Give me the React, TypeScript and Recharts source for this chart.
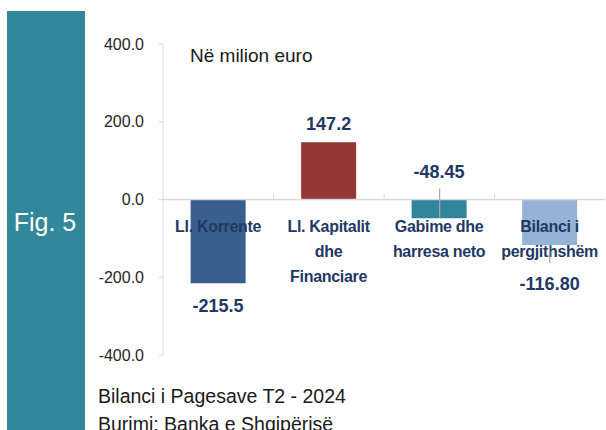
import React from 'react';
import { BarChart, Bar, XAxis, YAxis, ReferenceLine, LabelList, Cell } from 'recharts';

const categories = ['Ll. Korrente', 'Ll. Kapitalit dhe Financiare', 'Gabime dhe harresa neto', 'Bilanci i pergjithshëm'];
const categoryLines = [['Ll. Korrente'], ['Ll. Kapitalit', 'dhe', 'Financiare'], ['Gabime dhe', 'harresa neto'], ['Bilanci i', 'pergjithshëm']];
const values = [-215.5, 147.2, -48.45, -116.8];
const valueLabels = ['-215.5', '147.2', '-48.45', '-116.80'];
const barColors = ['#3a5f8f', '#953735', '#31859c', '#95b3d7'];
const yTicks = [-400, -200, 0, 200, 400];
const unitLabel = 'Në milion euro';
const figLabel = 'Fig. 5';
const footerLines = ['Bilanci i Pagesave T2 - 2024', 'Burimi: Banka e Shqipërisë'];

// label placement style per bar (not data)
const valueLabelMode = ['end', 'end', 'above', 'belowLeader'];

const data = categories.map((c, i) => ({ name: c, value: values[i], label: valueLabels[i] }));

const NAVY = '#1f3864';
const FONT = '"Liberation Sans", Arial, sans-serif';

const CategoryLabel = (props: any) => {
  const { x, y, width, height, value } = props;
  const i = categories.indexOf(value);
  if (i < 0) return null;
  const cx = x + width / 2;
  const zeroY = y + height;
  const lines = categoryLines[i];
  return (
    <g>
      {i > 0 && (
        <line x1={x - width / 2} x2={x - width / 2} y1={zeroY - 6} y2={zeroY} stroke="#d9d9d9" strokeWidth={1} />
      )}
      {lines.map((ln, k) => (
        <text
          key={k}
          x={cx}
          y={zeroY + 27 + k * 25}
          textAnchor="middle"
          dominantBaseline="central"
          fontFamily={FONT}
          fontWeight="bold"
          fontSize={16}
          fill={NAVY}
          letterSpacing={-0.3}
        >
          {ln}
        </text>
      ))}
    </g>
  );
};

const ValueLabel = (props: any) => {
  const { x, y, width, height, value } = props;
  const i = valueLabels.indexOf(value);
  if (i < 0) return null;
  const cx = x + width / 2;
  const zeroY = y + height;
  const endY = y;
  const v = values[i];
  const mode = valueLabelMode[i];
  let ty = 0;
  let leader: React.ReactNode = null;
  if (mode === 'end') {
    ty = v >= 0 ? endY - 18 : endY + 23;
  } else if (mode === 'above') {
    ty = zeroY - 28;
    leader = <line x1={cx + 0.5} x2={cx + 0.5} y1={zeroY - 11} y2={endY} stroke="#a6a6a6" strokeWidth={1.2} />;
  } else {
    ty = endY + 39.5;
    leader = <line x1={cx} x2={cx} y1={endY} y2={endY + 18} stroke="#a6a6a6" strokeWidth={1.2} />;
  }
  return (
    <g>
      {leader}
      <text
        x={cx}
        y={ty}
        textAnchor="middle"
        dominantBaseline="central"
        fontFamily={FONT}
        fontWeight="bold"
        fontSize={18}
        fill={NAVY}
      >
        {value}
      </text>
    </g>
  );
};

export default function App() {
  return (
    <div style={{ position: 'absolute', left: 0, top: 0, width: 606, height: 430, background: '#ffffff', overflow: 'hidden' }}>
      <div
        style={{
          position: 'absolute',
          left: 7,
          top: 11,
          width: 78,
          height: 419,
          background: '#33879a',
        }}
      />
      <div
        style={{
          position: 'absolute',
          left: 6,
          top: 204,
          width: 78,
          textAlign: 'center',
          color: '#ffffff',
          fontFamily: FONT,
          fontSize: 25,
          lineHeight: '36px',
        }}
      >
        {figLabel}
      </div>
      <div style={{ position: 'absolute', left: 0, top: 0 }}>
        <BarChart
          width={606}
          height={430}
          data={data}
          margin={{ top: 44, right: 1, bottom: 75, left: 0 }}
          barCategoryGap="25%"
        >
          <XAxis dataKey="name" hide />
          <YAxis
            width={163}
            domain={[-400, 400]}
            ticks={yTicks}
            tickFormatter={(v: number) => v.toFixed(1)}
            axisLine={{ stroke: '#d9d9d9' }}
            tickLine={{ stroke: '#d9d9d9' }}
            tickSize={4}
            tickMargin={15}
            tick={{ fill: '#262626', fontSize: 16, fontFamily: FONT }}
            interval={0}
          />
          <ReferenceLine y={0} stroke="#d9d9d9" strokeWidth={1.5} />
          <Bar dataKey="value" isAnimationActive={false}>
            {data.map((d, i) => (
              <Cell key={d.name} fill={barColors[i]} />
            ))}
            <LabelList dataKey="name" content={CategoryLabel} />
            <LabelList dataKey="label" content={ValueLabel} />
          </Bar>
        </BarChart>
      </div>
      <div
        style={{
          position: 'absolute',
          left: 190,
          top: 43,
          fontFamily: FONT,
          fontSize: 19,
          color: '#1a1a1a',
          whiteSpace: 'nowrap',
          lineHeight: '26px',
        }}
      >
        {unitLabel}
      </div>
      <div
        style={{
          position: 'absolute',
          left: 98,
          top: 382,
          fontFamily: FONT,
          fontSize: 19.5,
          color: '#1a1a1a',
          whiteSpace: 'nowrap',
          lineHeight: '28px',
        }}
      >
        {footerLines.map((l) => (
          <div key={l}>{l}</div>
        ))}
      </div>
    </div>
  );
}
